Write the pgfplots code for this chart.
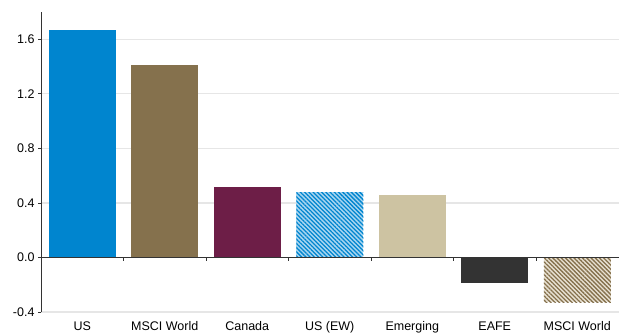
\documentclass[border=0pt]{standalone}
\usepackage{pgfplots}
\pgfplotsset{compat=1.18}
\usepackage{fontspec}
\setmainfont{Liberation Sans}
\usetikzlibrary{patterns.meta}
\definecolor{cBlue}{HTML}{0085CF}
\definecolor{cBlueLt}{HTML}{A9D6F0}
\definecolor{cBrown}{HTML}{85714D}
\definecolor{cBrownLt}{HTML}{E8E1D2}
\definecolor{cMaroon}{HTML}{6D1E47}
\definecolor{cBeige}{HTML}{CDC3A2}
\definecolor{cDark}{HTML}{333333}
\definecolor{cGrid}{HTML}{E6E6E6}
\begin{document}
\begin{tikzpicture}
\useasboundingbox (-41pt,-21pt) rectangle (579pt,312pt);
\begin{axis}[
  at={(0,0)}, anchor=south west,
  scale only axis, width=577.5pt, height=300pt,
  xmin=-0.5, xmax=6.5, ymin=-0.4, ymax=1.8,
  axis y line*=left, axis x line*=bottom,
  x axis line style={draw=none},
  y axis line style={draw=cDark, line width=0.8pt},
  xtick={0,...,6},
  xticklabels={US, MSCI World, Canada, US (EW), Emerging, EAFE, MSCI World},
  major x tick style={draw=none},
  ytick={-0.4,0,0.4,0.8,1.2,1.6},
  ytick style={draw=cDark, line width=0.8pt},
  tick align=outside, major tick length=3pt,
  yticklabel style={/pgf/number format/.cd, fixed, fixed zerofill, precision=1, assume math mode=true},
  xticklabel style={yshift=-3pt},
  tick label style={font=\fontsize{12.5}{14}\selectfont},
  ymajorgrids, grid style={draw=cGrid, line width=1.2pt},
  ybar, bar width=67pt, bar shift=0pt,
  clip=false,
]
\addplot[draw=none, fill=cBlue] coordinates {(0,1.665)};
\addplot[draw=none, fill=cBrown] coordinates {(1,1.41)};
\addplot[draw=none, fill=cMaroon] coordinates {(2,0.515)};
\addplot[draw=none, fill=cBlueLt, postaction={pattern color=cBlue, pattern={Lines[angle=-45,distance=3pt,line width=1.3pt]}}] coordinates {(3,0.477)};
\addplot[draw=none, fill=cBeige] coordinates {(4,0.455)};
\addplot[draw=none, fill=cDark] coordinates {(5,-0.19)};
\addplot[draw=none, fill=cBrownLt, postaction={pattern color=cBrown, pattern={Lines[angle=-45,distance=3pt,line width=1.3pt]}}] coordinates {(6,-0.33)};
\draw[cDark, line width=0.8pt] (axis cs:-0.5,0) -- (axis cs:6.5,0);
\pgfplotsinvokeforeach{0.5,1.5,2.5,3.5,4.5,5.5}{\draw[cDark, line width=0.8pt] (axis cs:#1,0) -- ++(0pt,-4pt);}
\end{axis}
\end{tikzpicture}
\end{document}
